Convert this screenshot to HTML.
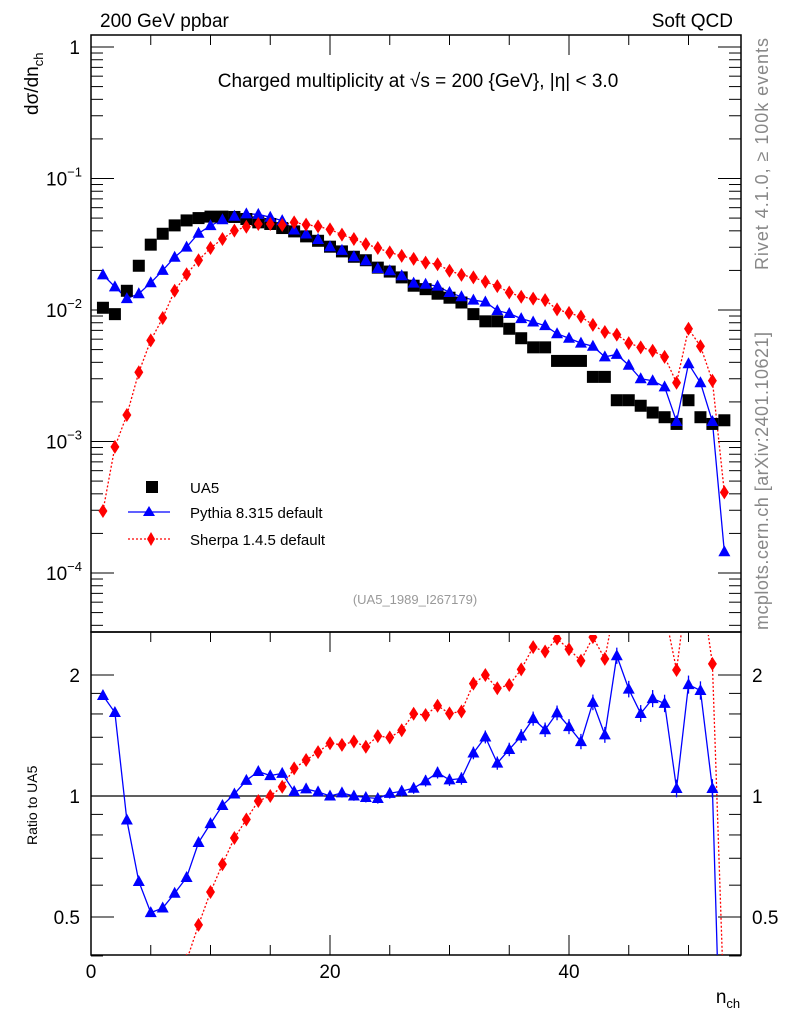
<!DOCTYPE html>
<html><head><meta charset="utf-8"><style>
html,body{margin:0;padding:0;background:#fff;overflow:hidden;width:786px;height:1024px;}
svg{display:block;}
svg text{font-family:"Liberation Sans",sans-serif;}
</style></head><body>
<svg id="c" width="786" height="1024" viewBox="0 0 786 1024" xmlns="http://www.w3.org/2000/svg">
<defs>
<clipPath id="cm"><rect x="91" y="35" width="650" height="597"/></clipPath>
<clipPath id="cr"><rect x="91" y="635" width="650" height="320"/></clipPath>
</defs>
<text x="100" y="27" font-size="19">200 GeV ppbar</text>
<text x="733" y="27" font-size="19" text-anchor="end">Soft QCD</text>
<text x="418" y="87" font-size="19" text-anchor="middle">Charged multiplicity at √s = 200 {GeV}, |η| &lt; 3.0</text>
<text x="415" y="604" font-size="13" fill="#999" text-anchor="middle">(UA5_1989_I267179)</text>
<text transform="translate(38,115) rotate(-90)" font-size="19">dσ/dn<tspan font-size="13" dy="5">ch</tspan></text>
<text transform="translate(37,845) rotate(-90)" font-size="14">Ratio to UA5</text>
<text transform="translate(768,270) rotate(-90)" font-size="18" fill="#888" textLength="232">Rivet 4.1.0, ≥ 100k events</text>
<text transform="translate(768,630) rotate(-90)" font-size="18" fill="#888" textLength="298">mcplots.cern.ch [arXiv:2401.10621]</text>
<text x="728" y="1003" font-size="19" text-anchor="middle">n<tspan font-size="13" dy="5">ch</tspan></text>
<g>
<rect x="146" y="481" width="12" height="12" fill="#000"/>
<text x="190" y="493" font-size="15">UA5</text>
<line x1="128" y1="512" x2="170" y2="512" stroke="#00f" stroke-width="1.2"/>
<polygon points="149,506 155,516 143,516" fill="#00f"/>
<text x="190" y="518" font-size="15">Pythia 8.315 default</text>
<line x1="128" y1="539" x2="170" y2="539" stroke="#f00" stroke-width="1.2" stroke-dasharray="2,2"/>
<polygon points="151,532 155,539 151,546 147,539" fill="#f00"/>
<text x="190" y="545" font-size="15">Sherpa 1.4.5 default</text>
</g>
<g id="g"></g>
</svg>
<script>
const nch=[];for(let i=1;i<=53;i++)nch.push(i);
const ua5=[0.0104,0.0093,0.0140,0.0217,0.0314,0.038,0.044,0.048,0.050,0.0513,0.0513,0.051,0.0492,0.0464,0.0451,0.042,0.0396,0.0363,0.0336,0.0303,0.0279,0.0254,0.0239,0.0210,0.0196,0.0177,0.0153,0.0144,0.0133,0.0124,0.0114,0.0093,0.0082,0.0082,0.0072,0.0061,0.0052,0.0052,0.0041,0.0041,0.0041,0.0031,0.0031,0.00206,0.00206,0.00187,0.00166,0.00153,0.00136,0.00206,0.00153,0.00136,0.00145];
const pythia=[0.0185,0.0150,0.0122,0.0133,0.0161,0.020,0.0252,0.0301,0.0383,0.0438,0.0486,0.0516,0.0538,0.0534,0.0507,0.0478,0.0406,0.0378,0.0344,0.0303,0.0284,0.0254,0.0237,0.0207,0.0199,0.0182,0.0160,0.0157,0.0152,0.0136,0.0126,0.0119,0.0115,0.0099,0.0094,0.0086,0.0081,0.0076,0.0066,0.0061,0.0056,0.0053,0.0044,0.0046,0.0038,0.0030,0.0029,0.0026,0.00142,0.0039,0.0028,0.00142,0.000145];
const sherpa=[0.000296,0.00091,0.00159,0.00336,0.00587,0.0087,0.0140,0.0187,0.0239,0.0296,0.0347,0.0401,0.043,0.0451,0.0451,0.0443,0.0464,0.0446,0.0432,0.041,0.0374,0.0347,0.0317,0.0296,0.0274,0.0258,0.0245,0.0229,0.0223,0.0199,0.0185,0.0177,0.0164,0.0152,0.0136,0.0126,0.0122,0.0119,0.0101,0.0095,0.0089,0.0077,0.0068,0.0065,0.0056,0.0052,0.0049,0.0044,0.0028,0.0072,0.0053,0.0029,0.00041];
const xTicks=[0,20,40];
const yDecades=[0,-1,-2,-3,-4];
const ratioTicks=[2,1,0.5];

const NS="http://www.w3.org/2000/svg";
const g=document.getElementById('g');
function el(t,a,p){const e=document.createElementNS(NS,t);for(const k in a)e.setAttribute(k,a[k]);(p||g).appendChild(e);return e;}
const X=v=>91+11.95*v;
const Y=v=>47-131.5*Math.log10(v);
const R=v=>796-121*Math.log2(v);

const fm=el('rect',{x:91,y:35,width:650,height:597,fill:'none',stroke:'#000','stroke-width':1.5});


const fr=el('rect',{x:91,y:632,width:650,height:323,fill:'none',stroke:'#000','stroke-width':1.5});


const one=el('line',{x1:91,x2:741,y1:R(1),y2:R(1),stroke:'#000','stroke-width':1.2});



for(let v=0;v<=54;v+=5){
  const big=(v%20===0)?1:0;const L=big?20:10;
  el('line',{x1:X(v),x2:X(v),y1:35,y2:35+L,stroke:'#000'});
  el('line',{x1:X(v),x2:X(v),y1:632,y2:632+L,stroke:'#000'});
  el('line',{x1:X(v),x2:X(v),y1:955,y2:955-L,stroke:'#000'});
}
for(const v of xTicks){
  const t=el('text',{x:X(v),y:978,'font-size':19,'text-anchor':'middle'});t.textContent=v;
  
  
}
for(let d=-5;d<=0;d++){
  for(let m=1;m<=9;m++){
    const v=m*Math.pow(10,d);const y=Y(v);if(y<35||y>632)continue;
    const L=m===1?23:12;
    el('line',{x1:91,x2:91+L,y1:y,y2:y,stroke:'#000'});
    el('line',{x1:741,x2:741-L,y1:y,y2:y,stroke:'#000'});
  }
}
for(const d of yDecades){
  const t=el('text',{x:d===0?80:82,y:Y(Math.pow(10,d))+7,'font-size':19,'text-anchor':'end'});
  if(d===0)t.textContent='1';else{t.textContent='10';const s=el('tspan',{'font-size':13,dy:-9},t);s.textContent='−'+(-d);}
  
  
}
for(const v of [0.4,0.5,0.6,0.7,0.8,0.9,1,2]){
  const y=R(v);const L=(v===1||v===2||v===0.5)?23:12;
  el('line',{x1:91,x2:91+L,y1:y,y2:y,stroke:'#000'});
  el('line',{x1:741,x2:741-L,y1:y,y2:y,stroke:'#000'});
}
for(const v of [1.2,1.4,1.6,1.8]){const y=R(v);el('line',{x1:91,x2:103,y1:y,y2:y,stroke:'#000'});el('line',{x1:741,x2:729,y1:y,y2:y,stroke:'#000'});}
for(const v of ratioTicks){
  const t=el('text',{x:80,y:R(v)+7,'font-size':19,'text-anchor':'end'});t.textContent=v;
  
  
  const t2=el('text',{x:752,y:R(v)+7,'font-size':19});t2.textContent=v;
  
  
}
const gm=el('g',{'clip-path':'url(#cm)'});
const gr=el('g',{'clip-path':'url(#cr)'});
function poly(xs,ys,col,dash,parent,name){
  const p=el('polyline',{points:xs.map((x,i)=>x+','+ys[i]).join(' '),fill:'none',stroke:col,'stroke-width':1.3},parent);
  if(dash)p.setAttribute('stroke-dasharray','2,2');
  
  
}
function tri(x,y,col,parent,name){const p=el('polygon',{points:`${x},${y-6.5} ${x+6},${y+4.5} ${x-6},${y+4.5}`,fill:col},parent);
  
  }
function dia(x,y,col,parent,name){const p=el('polygon',{points:`${x},${y-7} ${x+4.5},${y} ${x},${y+7} ${x-4.5},${y}`,fill:col},parent);
  
  }
const xs=nch.map(X);
poly(xs,sherpa.map(Y),'#f00',true,gm,'sherpa-line');
poly(xs,pythia.map(Y),'#00f',false,gm,'pythia-line');
nch.forEach((n,i)=>{
  const r=el('rect',{x:X(n)-6,y:Y(ua5[i])-6,width:12,height:12,fill:'#000'},gm);
  
  
});
nch.forEach((n,i)=>tri(X(n),Y(pythia[i]),'#00f',gm,'pythia-point'));
nch.forEach((n,i)=>dia(X(n),Y(sherpa[i]),'#f00',gm,'sherpa-point'));
const rp=pythia.map((v,i)=>v/ua5[i]);
const rs=sherpa.map((v,i)=>v/ua5[i]);
poly(xs,rs.map(R),'#f00',true,gr,'sherpa-ratio-line');
poly(xs,rp.map(R),'#00f',false,gr,'pythia-ratio-line');
nch.forEach((n,i)=>{
  const e=0.008+0.0009*n;
  const b=el('line',{x1:X(n),x2:X(n),y1:R(rp[i]*(1+e)),y2:R(rp[i]/(1+e)),stroke:'#00f','stroke-width':1.3},gr);
  
  
  tri(X(n),R(rp[i]),'#00f',gr,'pythia-ratio-point');
  dia(X(n),R(rs[i]),'#f00',gr,'sherpa-ratio-point');
});
</script>
</body></html>
